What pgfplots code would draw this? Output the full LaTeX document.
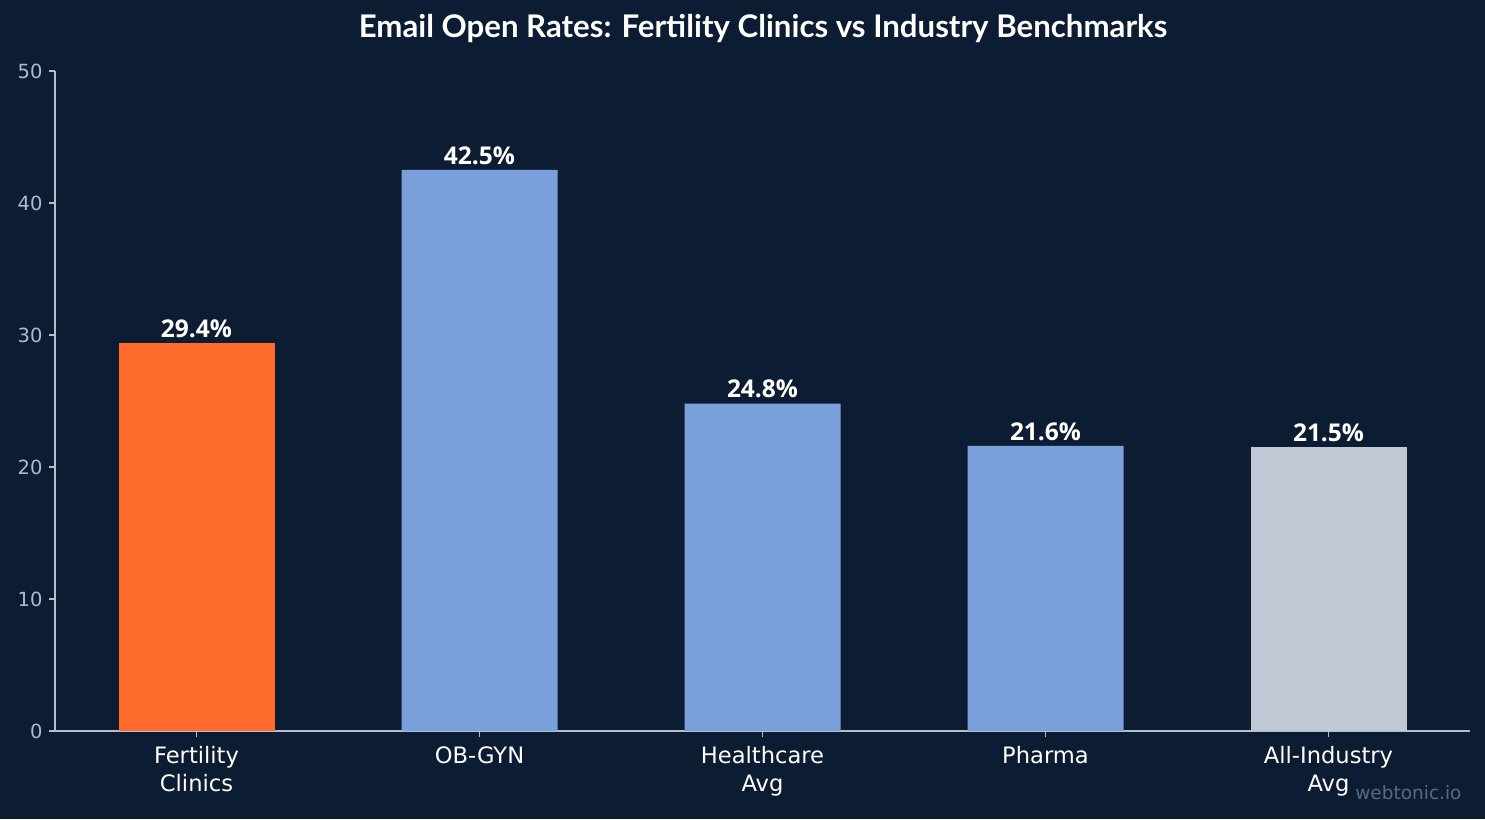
\documentclass[border=0pt]{standalone}
\usepackage{fontspec}
\setmainfont{DejaVu Sans}
\newfontfamily\titlefont{Lato}
\newfontfamily\valuefont{Open Sans}
\usepackage{pgfplots}
\pgfplotsset{compat=1.18}

\definecolor{bgnavy}{HTML}{0C1C33}
\definecolor{accent}{HTML}{FF6B2C}
\definecolor{benchblue}{HTML}{7AA0DC}
\definecolor{allgray}{HTML}{C0C8D6}
\definecolor{axisgray}{HTML}{B4BECD}
\definecolor{ticktext}{HTML}{AEBBCF}
\definecolor{markgray}{HTML}{5A6982}

\begin{document}
\begin{tikzpicture}[x=1bp,y=1bp]
% canvas
\fill[bgnavy] (0,0) rectangle (1485,819);

\begin{axis}[
  at={(55bp,88bp)}, anchor=south west,
  scale only axis,
  width=1415bp, height=660bp,
  xmin=-0.5, xmax=4.5,
  ymin=0, ymax=50,
  axis lines*=left,
  axis line style={axisgray, line width=1.2bp},
  tick style={axisgray, line width=1.2bp},
  tick align=outside,
  major tick length=6bp,
  xtick={0,1,2,3,4},
  xticklabels={{Fertility\\Clinics},{OB-GYN},{Healthcare\\Avg},{Pharma},{All-Industry\\Avg}},
  ytick={0,10,20,30,40,50},
  /pgf/number format/assume math mode=true,
  xticklabel style={align=center, text=white,
    font=\fontsize{22.6bp}{27.5bp}\selectfont, yshift=-6bp},
  yticklabel style={text=ticktext, font=\fontsize{19.5bp}{22bp}\selectfont, xshift=-3bp},
  ybar, bar width=156bp, bar shift=0pt,
  nodes near coords={\pgfmathprintnumber[fixed,fixed zerofill,precision=1]{\pgfplotspointmeta}\%},
  every node near coord/.append style={text=white,
    font=\valuefont\bfseries\fontsize{24.5bp}{27bp}\selectfont, yshift=2bp},
  clip=false,
]
\addplot[fill=accent, draw=none] coordinates {(0,29.4)};
\addplot[fill=benchblue, draw=none] coordinates {(1,42.5) (2,24.8) (3,21.6)};
\addplot[fill=allgray, draw=none] coordinates {(4,21.5)};
\end{axis}

\node[text=white, font=\titlefont\bfseries\fontsize{31.2bp}{35bp}\selectfont] at (763,790) {Email Open Rates: Fertility Clinics vs Industry Benchmarks};
\node[text=markgray, font=\fontsize{18.5bp}{22bp}\selectfont, anchor=east] at (1465,26) {webtonic.io};
\end{tikzpicture}
\end{document}
